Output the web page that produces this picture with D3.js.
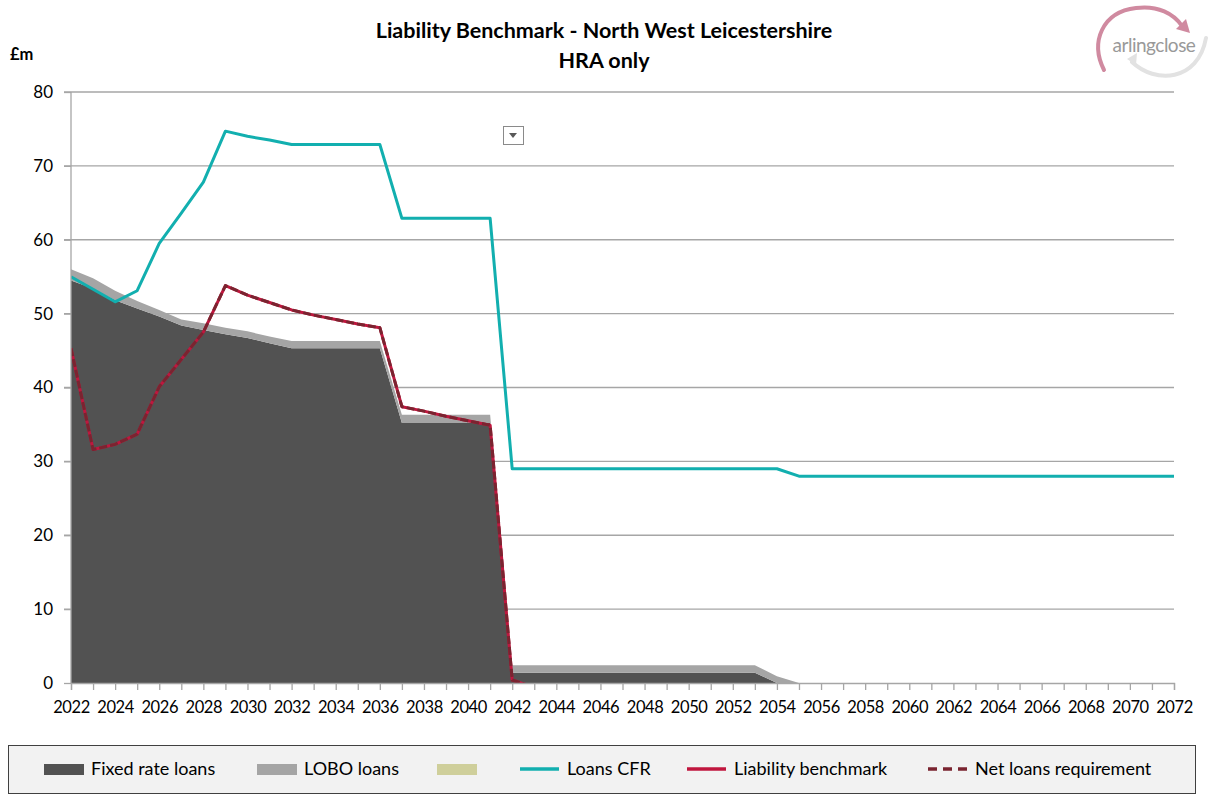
<!DOCTYPE html>
<html>
<head>
<meta charset="utf-8">
<script src="https://cdn.jsdelivr.net/npm/d3@7"></script>
<style>
  html, body { margin: 0; padding: 0; background: #ffffff; }
  svg { display: block; font-family: Lato, "Open Sans", sans-serif; }
</style>
</head>
<body>
<svg id="chart" width="1208" height="798"></svg>
<script>
const years = [2022,2023,2024,2025,2026,2027,2028,2029,2030,2031,2032,2033,2034,2035,2036,2037,2038,2039,2040,2041,
  2042,2043,2044,2045,2046,2047,2048,2049,2050,2051,2052,2053,2054,2055,2056,2057,2058,2059,2060,2061,2062,2063,
  2064,2065,2066,2067,2068,2069,2070,2071,2072];

const fixedRateLoans = [54.5,53.4,51.8,50.7,49.6,48.4,47.8,47.2,46.7,46.0,45.3,45.3,45.3,45.3,45.3,35.2,35.2,35.2,35.2,35.2,
  1.4,1.4,1.4,1.4,1.4,1.4,1.4,1.4,1.4,1.4,1.4,1.4,0,
  0,0,0,0,0,0,0,0,0,0,0,0,0,0,0,0,0,0];

const loboLoans = [1.5,1.4,1.3,1.0,0.9,0.8,0.9,0.9,0.9,0.9,1.0,1.0,1.0,1.0,1.0,1.1,1.1,1.1,1.1,1.1,
  1.0,1.0,1.0,1.0,1.0,1.0,1.0,1.0,1.0,1.0,1.0,1.0,0.9,
  0,0,0,0,0,0,0,0,0,0,0,0,0,0,0,0,0,0];

const loansCFR = [55.0,53.3,51.6,53.1,59.5,63.6,67.8,74.7,74.0,73.5,72.9,72.9,72.9,72.9,72.9,62.9,62.9,62.9,62.9,62.9,
  29.0,29.0,29.0,29.0,29.0,29.0,29.0,29.0,29.0,29.0,29.0,29.0,29.0,
  28.0,28.0,28.0,28.0,28.0,28.0,28.0,28.0,28.0,28.0,28.0,28.0,28.0,28.0,28.0,28.0,28.0,28.0];

const liabilityBenchmark = [45.3,31.6,32.3,33.7,40.1,43.8,47.5,53.8,52.5,51.5,50.5,49.8,49.2,48.6,48.1,37.4,36.8,36.1,35.5,34.9,
  0.4,-0.6];

const netLoansRequirement = [45.3,31.6,32.3,33.7,40.1,43.8,47.5,53.8,52.5,51.5,50.5,49.8,49.2,48.6,48.1,37.4,36.8,36.1,35.5,34.9,
  0.4,-0.6];

const yTicks = [0,10,20,30,40,50,60,70,80];
const xTickLabels = [2022,2024,2026,2028,2030,2032,2034,2036,2038,2040,2042,2044,2046,2048,2050,2052,2054,2056,2058,2060,2062,2064,2066,2068,2070,2072];

const legendItems = ["Fixed rate loans", "LOBO loans", "", "Loans CFR", "Liability benchmark", "Net loans requirement"];

const C = {
  fixed: "#525252",
  lobo: "#a5a5a5",
  khaki: "#cfcf9b",
  cfr: "#12afaf",
  liab: "#c0163e",
  net: "#7a2430",
  grid: "#a6a6a6"
};

const svg = d3.select("#chart");
const pLeft = 71, pRight = 1174, pTop = 92, pBottom = 683;

const x = d3.scaleLinear().domain([2022, 2072]).range([pLeft, pRight]);
const y = d3.scaleLinear().domain([0, 80]).range([pBottom, pTop]);

svg.append("defs").append("clipPath").attr("id", "plotclip")
  .append("rect").attr("x", pLeft).attr("y", pTop - 5).attr("width", pRight - pLeft + 5).attr("height", pBottom - pTop + 5);

// gridlines
svg.append("g").selectAll("line").data(yTicks.filter(d => d > 0)).join("line")
  .attr("x1", pLeft - 7).attr("x2", pRight)
  .attr("y1", d => y(d)).attr("y2", d => y(d))
  .attr("stroke", C.grid).attr("stroke-width", 1.3);

// stacked areas
const stackData = years.map((yr, i) => ({ year: yr, fixed: fixedRateLoans[i], lobo: loboLoans[i] }));
const stack = d3.stack().keys(["fixed", "lobo"]);
const series = stack(stackData);
const area = d3.area().x(d => x(d.data.year)).y0(d => y(d[0])).y1(d => y(d[1]));

const plot = svg.append("g").attr("clip-path", "url(#plotclip)");
plot.selectAll("path.area").data(series).join("path")
  .attr("class", "area")
  .attr("d", area)
  .attr("fill", (d, i) => i === 0 ? C.fixed : C.lobo);

// lines
const line = d3.line().x(d => x(d[0])).y(d => y(d[1]));
const pairs = arr => arr.map((v, i) => [years[i], v]);

plot.append("path").attr("d", line(pairs(loansCFR)))
  .attr("fill", "none").attr("stroke", C.cfr).attr("stroke-width", 3).attr("stroke-linejoin", "round");
plot.append("path").attr("d", line(pairs(liabilityBenchmark)))
  .attr("fill", "none").attr("stroke", C.liab).attr("stroke-width", 3).attr("stroke-linejoin", "round");
plot.append("path").attr("d", line(pairs(netLoansRequirement)))
  .attr("fill", "none").attr("stroke", C.net).attr("stroke-width", 3).attr("stroke-dasharray", "8,3").attr("stroke-linejoin", "round");

// axes
const xAxis = d3.axisBottom(x).tickValues(years).tickSize(7).tickFormat(d => xTickLabels.includes(d) ? d : "");
const gx = svg.append("g").attr("transform", `translate(0,${pBottom})`).call(xAxis);
gx.select(".domain").attr("stroke", C.grid).attr("stroke-width", 1.3);
gx.selectAll(".tick line").attr("stroke", C.grid).attr("stroke-width", 1.3);
gx.selectAll(".tick text").attr("font-size", 16.5).attr("fill", "#000").attr("y", 13).attr("dy", "1.0em")
  .attr("letter-spacing", "-0.4px")
  .attr("font-family", "Lato, 'Open Sans', sans-serif");

const yAxis = d3.axisLeft(y).tickValues(yTicks).tickSize(7).tickFormat(d3.format("d"));
const gy = svg.append("g").attr("transform", `translate(${pLeft},0)`).call(yAxis);
gy.select(".domain").attr("stroke", C.grid).attr("stroke-width", 1.3).attr("d", `M0,${pTop}V${pBottom}`);
gy.selectAll(".tick line").attr("stroke", C.grid).attr("stroke-width", 1.3);
gy.selectAll(".tick text").attr("font-size", 17).attr("fill", "#000").attr("x", -18)
  .attr("font-family", "Lato, 'Open Sans', sans-serif");

// title
svg.append("text").attr("x", 604).attr("y", 38).attr("text-anchor", "middle")
  .attr("font-size", 21.5).attr("font-weight", "bold").text("Liability Benchmark - North West Leicestershire");
svg.append("text").attr("x", 604).attr("y", 68).attr("text-anchor", "middle")
  .attr("font-size", 21.5).attr("font-weight", "bold").text("HRA only");

// units label
svg.append("text").attr("x", 10).attr("y", 60).attr("font-size", 16.5).attr("font-weight", "bold").text("£m");

// filter button
svg.append("rect").attr("x", 503.5).attr("y", 126.5).attr("width", 20).attr("height", 18)
  .attr("fill", "#fff").attr("stroke", "#8a8a8a").attr("stroke-width", 1);
svg.append("path").attr("d", "M509,133 L517,133 L513,138 Z").attr("fill", "#595959");

// logo
const logo = svg.append("g");
logo.append("path").attr("d", "M1132,62 C1155,84 1198,82 1206,38")
  .attr("fill", "none").attr("stroke", "#e2e2e2").attr("stroke-width", 4).attr("stroke-linecap", "round");
logo.append("path").attr("d", "M1127,59 L1137,53 L1136,65 Z").attr("fill", "#e2e2e2");
logo.append("path").attr("d", "M1104,70 C1090,42 1102,12 1136,8 C1158,5 1174,14 1182,26")
  .attr("fill", "none").attr("stroke", "#d08aa0").attr("stroke-width", 4).attr("stroke-linecap", "round");
logo.append("path").attr("d", "M1176,29 L1190,33 L1186,19 Z").attr("fill", "#d08aa0");
logo.append("text").attr("x", 1154).attr("y", 52).attr("text-anchor", "middle")
  .attr("font-size", 19).attr("fill", "#999999").attr("letter-spacing", "-0.5px")
  .attr("font-family", "Lato, sans-serif").text("arlingclose");

// legend
const lg = svg.append("g");
lg.append("rect").attr("x", 8.5).attr("y", 745.5).attr("width", 1187).attr("height", 48)
  .attr("fill", "#f2f2f2").attr("stroke", "#404040").attr("stroke-width", 1);

const legendX = [44, 257, 437, 520, 687, 928];
legendItems.forEach((name, i) => {
  const g = lg.append("g").attr("transform", `translate(${legendX[i]},769)`);
  if (i < 3) {
    g.append("rect").attr("x", 0).attr("y", -5).attr("width", 40).attr("height", 11)
      .attr("fill", [C.fixed, C.lobo, C.khaki][i]);
  } else if (i === 3 || i === 4) {
    g.append("line").attr("x1", 0).attr("x2", 39).attr("y1", 0).attr("y2", 0)
      .attr("stroke", i === 3 ? C.cfr : C.liab).attr("stroke-width", 3.5);
  } else {
    g.append("line").attr("x1", 0).attr("x2", 39).attr("y1", 0).attr("y2", 0)
      .attr("stroke", C.net).attr("stroke-width", 3.5).attr("stroke-dasharray", "9,6");
  }
  if (name) {
    g.append("text").attr("x", 47).attr("y", 6).attr("font-size", 18).attr("fill", "#000").text(name);
  }
});
</script>
</body>
</html>
